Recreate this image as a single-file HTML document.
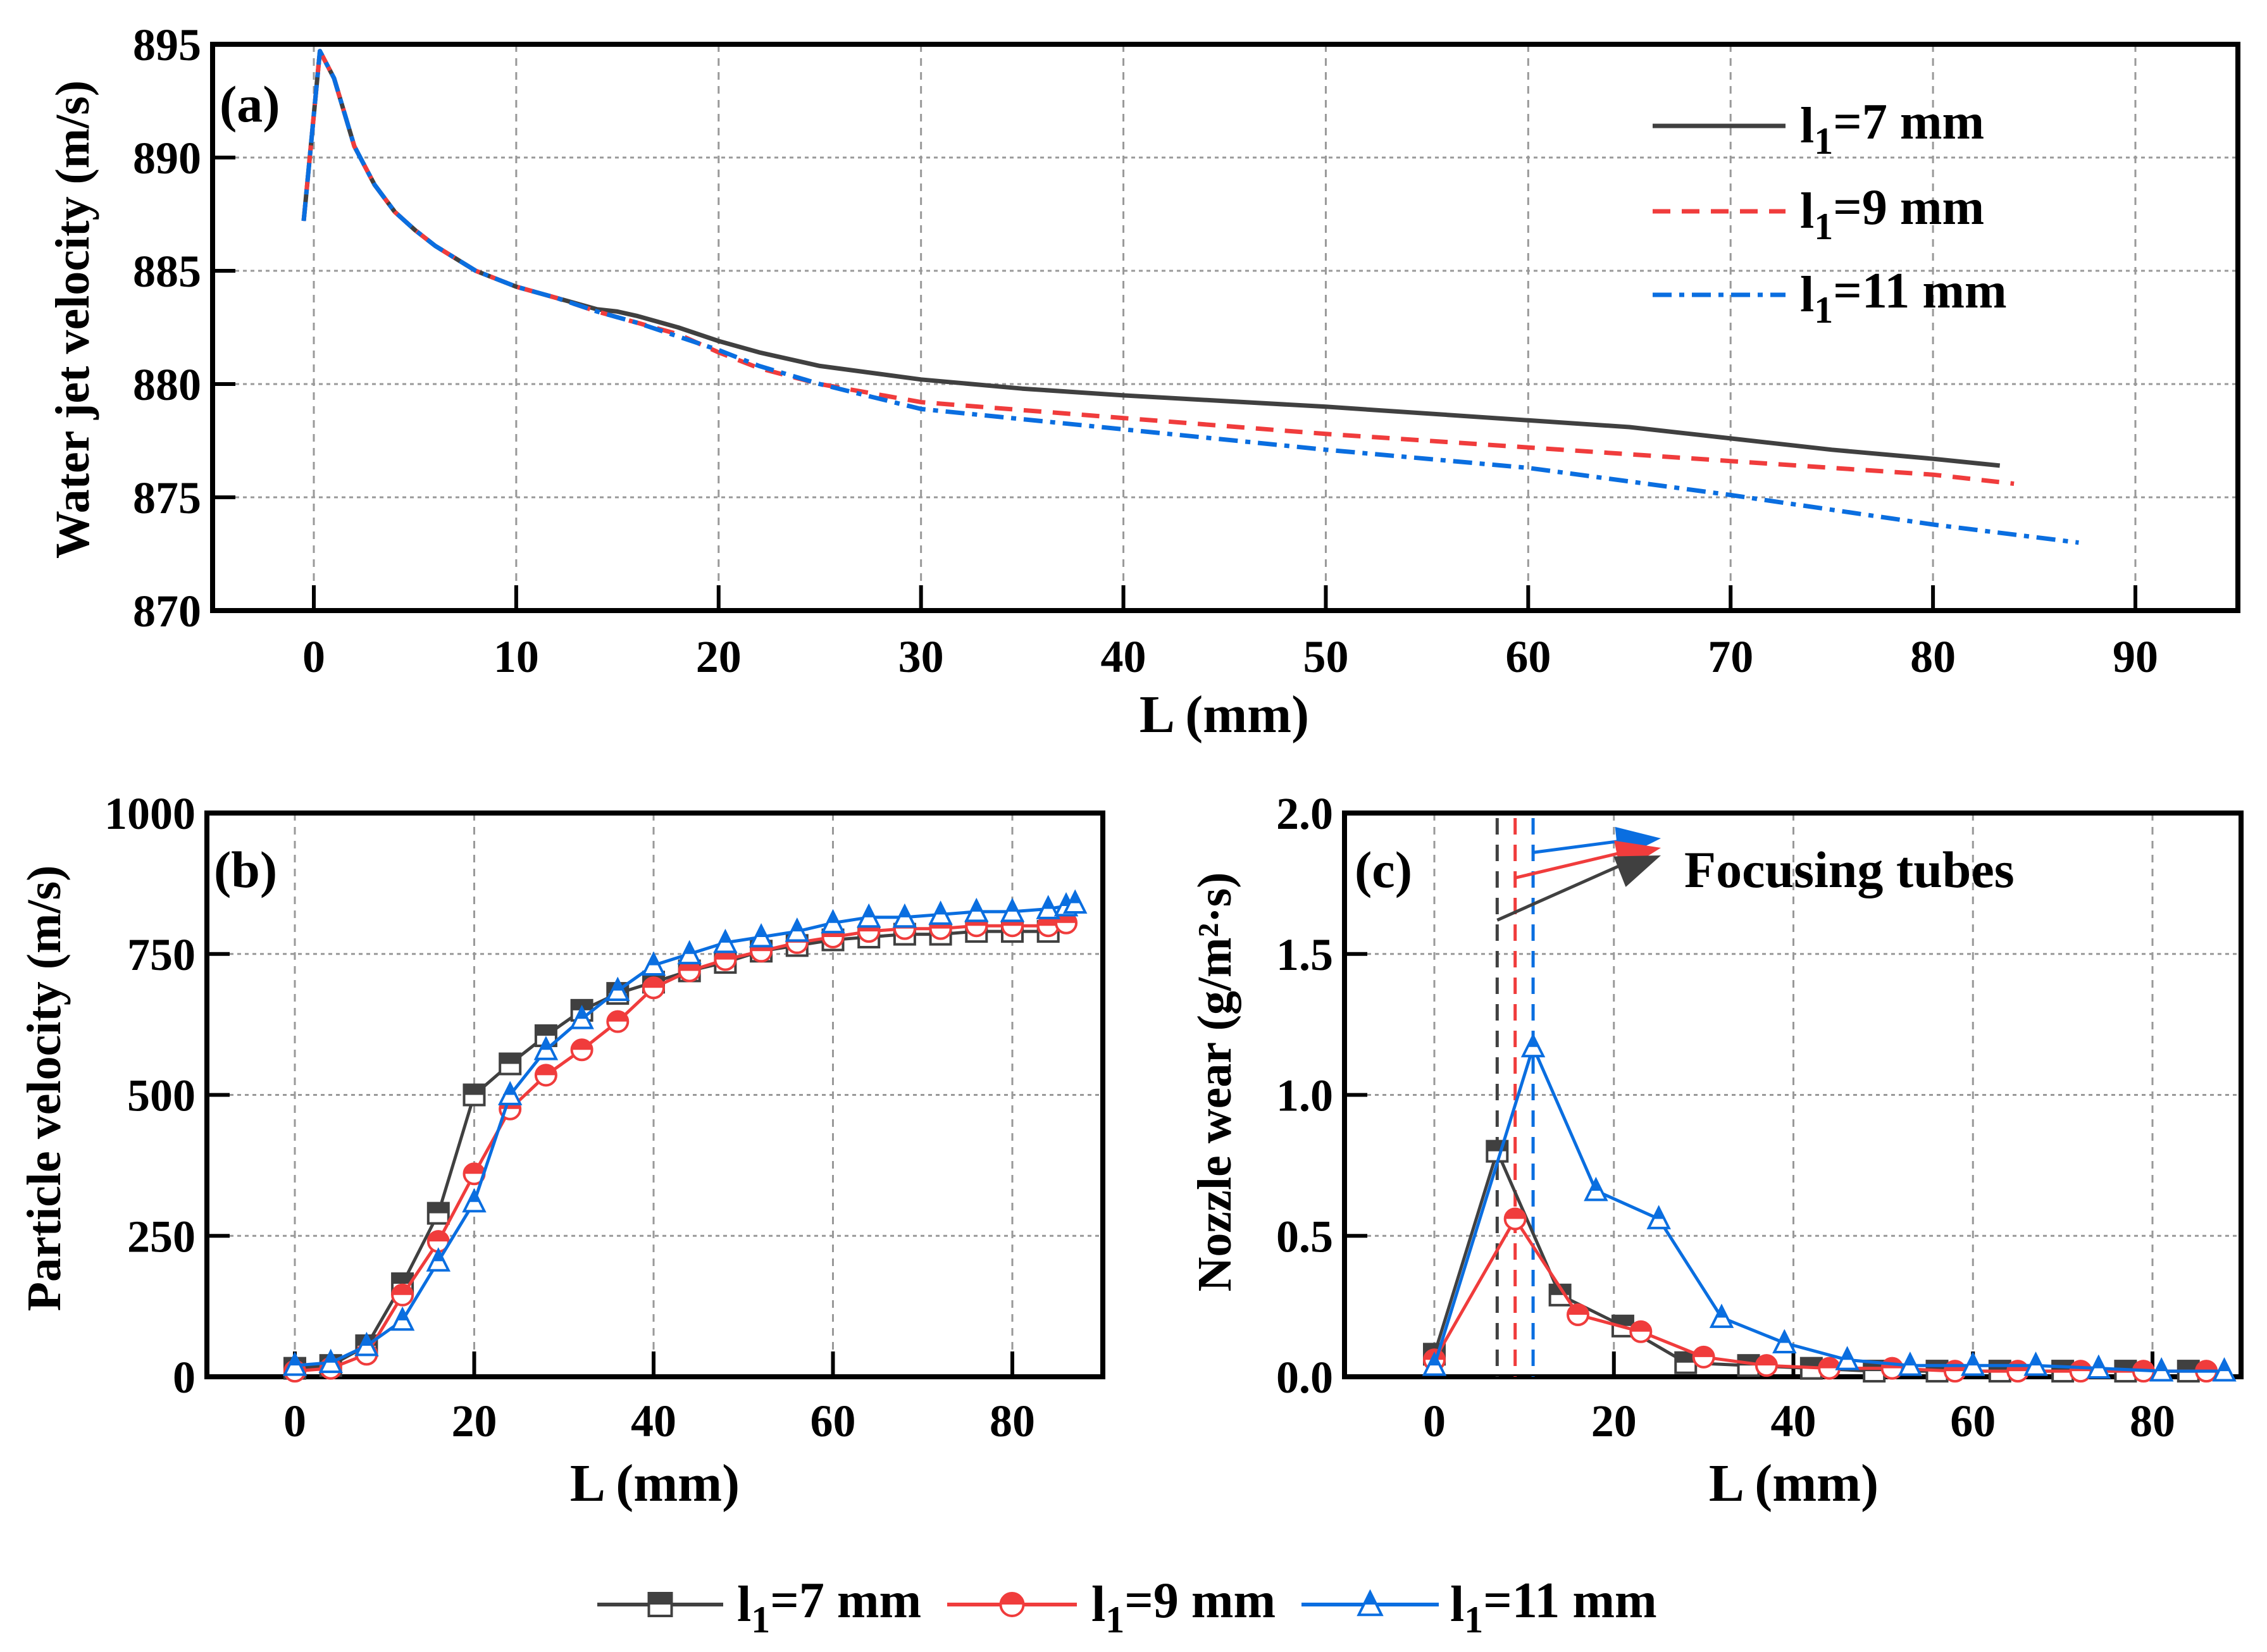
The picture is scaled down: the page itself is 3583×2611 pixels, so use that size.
<!DOCTYPE html>
<html><head><meta charset="utf-8">
<style>
html,body{margin:0;padding:0;background:#fff;}
svg{display:block;}
text{font-family:"Liberation Serif",serif;font-weight:bold;fill:#000;}
</style></head>
<body>
<svg id="fig" width="3583" height="2611" viewBox="0 0 3583 2611" xmlns="http://www.w3.org/2000/svg">
<g id="layer"></g>
</svg>
<script>
// ---------- Panel (a) data ----------
const aX7 = [-0.5,0.3,1,2,3,4,5,6,8,10,12,14,15,16,18,20,22,25,30,35,40,50,60,65,70,75,80,83.3];
const aY7 = [887.2,894.7,893.5,890.5,888.8,887.6,886.8,886.1,885.0,884.3,883.8,883.3,883.2,883.0,882.5,881.9,881.4,880.8,880.2,879.8,879.5,879.0,878.4,878.1,877.6,877.1,876.7,876.4];
const aX9 = [-0.5,0.3,1,2,3,4,5,6,8,10,12,14,16,18,20,22,25,30,40,50,60,70,80,84];
const aY9 = [887.2,894.7,893.5,890.5,888.8,887.6,886.8,886.1,885.0,884.3,883.8,883.2,882.7,882.2,881.4,880.7,880.0,879.2,878.5,877.8,877.2,876.6,876.0,875.6];
const aX11 = [-0.5,0.3,1,2,3,4,5,6,8,10,12,14,16,18,20,22,25,30,40,50,60,70,80,87.2];
const aY11 = [887.2,894.7,893.5,890.5,888.8,887.6,886.8,886.1,885.0,884.3,883.8,883.2,882.7,882.1,881.5,880.8,880.0,878.9,878.0,877.1,876.3,875.1,873.8,873.0];
const aXTicks = [0,10,20,30,40,50,60,70,80,90];
const aYTicks = [870,875,880,885,890,895];
// ---------- Panel (b) data ----------
const bX7 = [0,4,8,12,16,20,24,28,32,36,40,44,48,52,56,60,64,68,72,76,80,84];
const bY7 = [15,20,55,165,290,500,555,605,650,680,700,720,735,755,765,775,780,785,785,790,790,790];
const bX9 = [0,4,8,12,16,20,24,28,32,36,40,44,48,52,56,60,64,68,72,76,80,84,86];
const bY9 = [10,15,40,145,240,360,475,535,580,630,690,720,740,755,770,780,790,795,795,800,800,800,805];
const bX11 = [0,4,8,12,16,20,24,28,32,36,40,44,48,52,56,60,64,68,72,76,80,84,86,87];
const bY11 = [20,25,55,100,205,310,500,580,635,685,730,750,770,780,790,805,815,815,820,825,825,830,835,840];
const bXTicks = [0,20,40,60,80];
const bYTicks = [0,250,500,750,1000];
// ---------- Panel (c) data ----------
const cX7 = [0,7,14,21,28,35,42,49,56,63,70,77,84];
const cY7 = [0.08,0.80,0.29,0.18,0.05,0.04,0.03,0.02,0.02,0.02,0.02,0.02,0.02];
const cX9 = [0,9,16,23,30,37,44,51,58,65,72,79,86];
const cY9 = [0.06,0.56,0.22,0.16,0.07,0.04,0.03,0.03,0.02,0.02,0.02,0.02,0.02];
const cX11 = [0,11,18,25,32,39,46,53,60,67,74,81,88];
const cY11 = [0.04,1.17,0.66,0.56,0.21,0.12,0.06,0.04,0.04,0.04,0.03,0.02,0.02];
const cXTicks = [0,20,40,60,80];
const cYTicks = [0.0,0.5,1.0,1.5,2.0];
const tubePos = [7,9,11];
const tubeArrowY = [1.62,1.77,1.86];

const NS='http://www.w3.org/2000/svg';
const root=document.getElementById('layer');
const C7='#404040', C9='#f03c3c', C11='#0a6ee0';
function mk(tag,attrs,parent){const e=document.createElementNS(NS,tag);for(const k in attrs)e.setAttribute(k,attrs[k]);(parent||root).appendChild(e);return e;}
function lin(d0,d1,p0,p1){return v=>p0+(v-d0)*(p1-p0)/(d1-d0);}

function axesFrame(g,L,R,T,B,sx,sy,xt,yt,xfmt,yfmt,tickY){
  xt.forEach(v=>{const x=sx(v);
    const gl=mk('line',{x1:x,x2:x,y1:T,y2:B,stroke:'#999','stroke-width':3,'stroke-dasharray':'12,10'},g);
    });
  yt.forEach(v=>{const y=sy(v);
    const gl=mk('line',{x1:L,x2:R,y1:y,y2:y,stroke:'#999','stroke-width':3,'stroke-dasharray':'6,6'},g);
    });
  const fr=mk('rect',{x:L,y:T,width:R-L,height:B-T,fill:'none',stroke:'#000','stroke-width':8},g);
  
  xt.forEach(v=>{const x=sx(v);
    mk('line',{x1:x,x2:x,y1:B,y2:B-40,stroke:'#000','stroke-width':6},g);
    const t=mk('text',{x:x,y:tickY,'text-anchor':'middle','font-size':72},g);t.textContent=xfmt(v);
    });
  yt.forEach(v=>{const y=sy(v);
    mk('line',{x1:L,x2:L+36,y1:y,y2:y,stroke:'#000','stroke-width':6},g);
    const t=mk('text',{x:L-18,y:y+25,'text-anchor':'end','font-size':72},g);t.textContent=yfmt(v);
    });
}
function poly(g,xs,ys,sx,sy,col,w,dash){
  const p=xs.map((v,i)=>sx(v).toFixed(1)+','+sy(ys[i]).toFixed(1)).join(' ');
  const a={points:p,fill:'none',stroke:col,'stroke-width':w,'stroke-linejoin':'round'};
  if(dash)a['stroke-dasharray']=dash;
  return mk('polyline',a,g);
}
function marker(g,type,x,y,col,s){
  const h=s/2;
  if(type==='sq'){
    mk('rect',{x:x-h,y:y-h,width:s,height:s,fill:'#fff',stroke:col,'stroke-width':4},g);
    mk('rect',{x:x-h,y:y-h,width:s,height:h,fill:col},g);
  }else if(type==='ci'){
    mk('circle',{cx:x,cy:y,r:h,fill:'#fff',stroke:col,'stroke-width':4},g);
    mk('path',{d:`M${x-h},${y} A${h},${h} 0 0 1 ${x+h},${y} Z`,fill:col},g);
  }else{
    const t=y-h*1.1,b=y+h*0.9;
    mk('polygon',{points:`${x},${t} ${x-h},${b} ${x+h},${b}`,fill:'#fff',stroke:col,'stroke-width':4},g);
    const m=y; const hw=h*(m-t)/(b-t);
    mk('polygon',{points:`${x},${t} ${x-hw},${m} ${x+hw},${m}`,fill:col},g);
  }
}
function series(g,name,xs,ys,sx,sy,col,type){
  const sg=mk('g',{},g);
  
  
  poly(sg,xs,ys,sx,sy,col,5);
  xs.forEach((v,i)=>marker(sg,type,sx(v),sy(ys[i]),col,32));
}
function sub(t,main,subs,rest){
  t.appendChild(document.createTextNode(main));
  const s=document.createElementNS(NS,'tspan');s.setAttribute('dy','0.3em');s.setAttribute('font-size','0.75em');s.textContent=subs;t.appendChild(s);
  const r=document.createElementNS(NS,'tspan');r.setAttribute('dy','-0.3em');r.textContent=rest;t.appendChild(r);
}

// ===== Panel a =====
{
const g=mk('g',{});
const L=336,R=3537,T=70,B=965;
const sx=lin(0,90,496,3375), sy=lin(870,895,B,T);
axesFrame(g,L,R,T,B,sx,sy,aXTicks,aYTicks,v=>String(v),v=>String(v),1062);
const s7=poly(g,aX7,aY7,sx,sy,C7,7);
const s9=poly(g,aX9,aY9,sx,sy,C9,7,'28,18');
const s11=poly(g,aX11,aY11,sx,sy,C11,7,'30,12,8,12');
const la=mk('text',{x:347,y:192,'font-size':82},g);la.textContent='(a)';
const xt=mk('text',{x:1935,y:1157,'text-anchor':'middle','font-size':84},g);xt.textContent='L (mm)';
const yt=mk('text',{x:0,y:0,'text-anchor':'middle','font-size':76,transform:'translate(140,505) rotate(-90)'},g);yt.textContent='Water jet velocity (m/s)';
const leg=[[C7,null,'7 mm',199],[C9,'28,18','9 mm',334],[C11,'30,12,8,12','11 mm',466]];
leg.forEach(e=>{const lg=mk('g',{},g);
  const a={x1:2612,x2:2822,y1:e[3],y2:e[3],stroke:e[0],'stroke-width':7};if(e[1])a['stroke-dasharray']=e[1];mk('line',a,lg);
  const t=mk('text',{x:2845,y:e[3]+26,'font-size':80},lg);sub(t,'l','1','='+e[2]);});
}
// ===== Panel b =====
{
const g=mk('g',{});
const L=327,R=1743,T=1285,B=2176;
const sx=lin(0,80,466,1600), sy=lin(0,1000,B,T);
axesFrame(g,L,R,T,B,sx,sy,bXTicks,bYTicks,v=>String(v),v=>String(v),2270);
series(g,'series-l1-7mm',bX7,bY7,sx,sy,C7,'sq');
series(g,'series-l1-9mm',bX9,bY9,sx,sy,C9,'ci');
series(g,'series-l1-11mm',bX11,bY11,sx,sy,C11,'tr');
const la=mk('text',{x:338,y:1402,'font-size':82},g);la.textContent='(b)';
const xt=mk('text',{x:1035,y:2372,'text-anchor':'middle','font-size':84},g);xt.textContent='L (mm)';
const yt=mk('text',{x:0,y:0,'text-anchor':'middle','font-size':76,transform:'translate(95,1720) rotate(-90)'},g);yt.textContent='Particle velocity (m/s)';
}
// ===== Panel c =====
{
const g=mk('g',{});
const L=2125,R=3542,T=1285,B=2176;
const sx=lin(0,80,2267,3402), sy=lin(0,2,B,T);
axesFrame(g,L,R,T,B,sx,sy,cXTicks,cYTicks,v=>String(v),v=>v.toFixed(1),2270);
const cols=[C7,C9,C11];
tubePos.forEach((v,i)=>{const l=mk('line',{x1:sx(v),x2:sx(v),y1:T+8,y2:B,stroke:cols[i],'stroke-width':5,'stroke-dasharray':'26,16'},g);
  });
series(g,'series-l1-7mm',cX7,cY7,sx,sy,C7,'sq');
series(g,'series-l1-9mm',cX9,cY9,sx,sy,C9,'ci');
series(g,'series-l1-11mm',cX11,cY11,sx,sy,C11,'tr');
const tips=[1352,1340,1325];
[2,1,0].forEach(i=>{const x0=sx(tubePos[i]),y0=sy(tubeArrowY[i]),x1=2625,y1=tips[i];
  const ag=mk('g',{},g);
  mk('line',{x1:x0,y1:y0,x2:x1-40,y2:y1+(y0-y1)*0.05,stroke:cols[i],'stroke-width':5},ag);
  const ang=Math.atan2(y1-y0,x1-x0),len=70,wd=26;
  const bx=x1-len*Math.cos(ang),by=y1-len*Math.sin(ang);
  mk('polygon',{points:`${x1},${y1} ${bx-wd*Math.sin(ang)},${by+wd*Math.cos(ang)} ${bx+wd*Math.sin(ang)},${by-wd*Math.cos(ang)}`,fill:cols[i]},ag);});
const ft=mk('text',{x:2662,y:1402,'font-size':82},g);ft.textContent='Focusing tubes';
const la=mk('text',{x:2141,y:1402,'font-size':82},g);la.textContent='(c)';
const xt=mk('text',{x:2835,y:2372,'text-anchor':'middle','font-size':84},g);xt.textContent='L (mm)';
const yt=mk('text',{x:0,y:0,'text-anchor':'middle','font-size':76,transform:'translate(1945,1710) rotate(-90)'},g);yt.textContent='Nozzle wear (g/m\u00B2\u00B7s)';
}
// ===== Bottom legend =====
{
const g=mk('g',{});
const items=[[C7,'sq','7 mm',944,1143,1165],[C9,'ci','9 mm',1497,1702,1725],[C11,'tr','11 mm',2057,2274,2292]];
items.forEach(e=>{const lg=mk('g',{},g);
  mk('line',{x1:e[3],x2:e[4],y1:2536,y2:2536,stroke:e[0],'stroke-width':6},lg);
  marker(lg,e[1],(e[3]+e[4])/2,2536,e[0],36);
  const t=mk('text',{x:e[5],y:2562,'font-size':80},lg);sub(t,'l','1','='+e[2]);});
}
</script>
</body></html>
